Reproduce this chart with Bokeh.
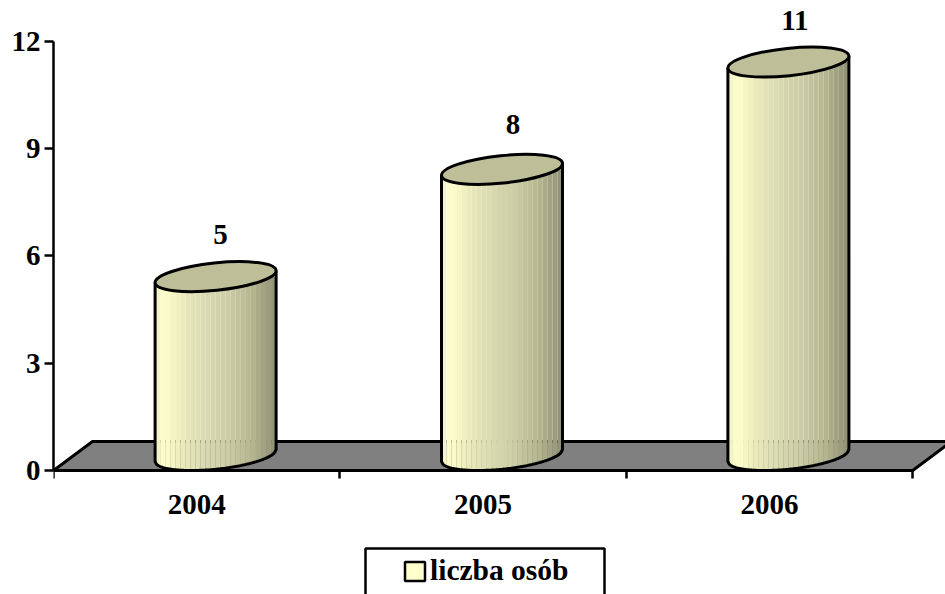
import numpy as np
from bokeh.core.properties import value as val
from bokeh.embed import file_html
from bokeh.models import (BoxAnnotation, ColumnDataSource, FixedTicker, Legend,
                          LegendItem, LinearAxis, Range1d)
from bokeh.plotting import figure
from bokeh.resources import INLINE

categories = ["2004", "2005", "2006"]
values = [5, 8, 11]
y_ticks = [0, 3, 6, 9, 12]
series_name = "liczba osób"

FONT = "Liberation Serif"
FS = "29px"
UX = 286.4   # px per category
UY = 35.77   # px per value unit
W, H = 945, 594
LEFT, ZERO_PX = 53, 470
DEPTH_X, DEPTH_Y = 39 / UX, 29 / UY      # floor depth
BAR_DX = 0.066                           # bar offset inside its category
BASE = 15 / UY                           # base ellipse centre above the axis
SX, SY, TILT = 60.5, 15.0, 6.0           # ellipse half extents and tilt in px

p = figure(width=W, height=H, output_backend="svg", toolbar_location=None,
           x_range=Range1d(0, (W - LEFT) / UX),
           y_range=Range1d(-(H - ZERO_PX) / UY, ZERO_PX / UY),
           min_border_left=LEFT, min_border_bottom=0,
           min_border_top=0, min_border_right=0,
           x_axis_type=None, y_axis_type=None,
           outline_line_color=None, background_fill_color="white")
p.grid.visible = False

# floor
p.patch([0, DEPTH_X, 3 + DEPTH_X, 3], [0, DEPTH_Y, DEPTH_Y, 0],
        fill_color="#808080", line_color="black", line_width=3)

# colours across a cylinder
STOP_F = [0.0, 0.08, 0.20, 0.35, 0.60, 0.80, 1.0]
STOP_C = np.array([[240, 240, 196], [255, 255, 204], [237, 237, 190], [223, 223, 181],
                   [204, 204, 166], [182, 182, 145], [143, 143, 116]])
N = 24
edges = np.linspace(-1, 1, N + 1)
xs_all, ys_all, cols = [], [], []
outline_x, outline_y = [], []
centres = [i + 0.5 + BAR_DX for i in range(len(values))]


def lower_arc(dpx):
    return (TILT / SX) * dpx - np.sqrt(SY**2 - TILT**2) * np.sqrt(np.maximum(0, 1 - (dpx / SX)**2))


for c, v in zip(centres, values):
    top = v + BASE
    for i in range(N):
        d = np.linspace(edges[i], edges[i + 1], 5) * SX
        arc = BASE + lower_arc(d) / UY
        xs_all.append(np.r_[c + d / UX, c + d[::-1] / UX])
        ys_all.append(np.r_[arc, np.full(5, top)])
        f = (i + 0.5) / N
        rgb = [np.interp(f, STOP_F, STOP_C[:, k]) for k in range(3)]
        cols.append("#%02x%02x%02x" % tuple(int(round(q)) for q in rgb))
    d = np.linspace(-1, 1, 81) * SX
    outline_x.append(np.r_[c - SX / UX, c + d / UX, c + SX / UX])
    outline_y.append(np.r_[top - TILT / UY, BASE + lower_arc(d) / UY, top + TILT / UY])

p.patches(xs_all, ys_all, fill_color=cols, line_color=None)
p.multi_line(outline_x, outline_y, line_color="black", line_width=3)

cap = ColumnDataSource(dict(x=centres, y=[v + BASE for v in values],
                            label=[str(v) for v in values],
                            dx=[5, 11, 6.5], dy=[-42, -45, -42]))
p.ellipse("x", "y", source=cap, width=121.6, height=27.4, angle=0.104,
          width_units="screen", height_units="screen",
          fill_color="#BEBE99", line_color="black", line_width=3)
p.text("x", "y", text="label", source=cap, x_offset="dx", y_offset="dy",
       text_align="center", text_baseline="middle",
       text_font=val(FONT), text_font_style="bold", text_font_size=FS, text_color="black")

# axes
ya = LinearAxis(ticker=FixedTicker(ticks=y_ticks), bounds=(0, 12),
                axis_line_width=2.5, major_tick_line_width=2.5,
                major_tick_out=9, major_tick_in=0, minor_tick_out=0, minor_tick_in=0,
                major_label_standoff=4, major_label_text_font=FONT,
                major_label_text_font_style="bold", major_label_text_font_size=FS,
                major_label_text_color="black")
p.add_layout(ya, "left")
label_pos = [i + 0.5 for i in range(len(categories))]
xa = LinearAxis(ticker=FixedTicker(ticks=label_pos, minor_ticks=list(range(len(categories) + 1))),
                bounds=(0, 3), fixed_location=0,
                major_label_overrides=dict(zip(label_pos, categories)),
                axis_line_width=3, major_tick_out=0, major_tick_in=0,
                minor_tick_out=8, minor_tick_in=0, minor_tick_line_width=2.5,
                major_label_standoff=16, major_label_text_font=FONT,
                major_label_text_font_style="bold", major_label_text_font_size=FS,
                major_label_text_color="black")
p.add_layout(xa, "below")

# legend: its swatch renderer has one row outside the visible range
swatch = p.quad(left=[-3], right=[-2], top=[-2], bottom=[-3], fill_color="#FFFFCC",
                line_color="black", line_width=2.5)
legend = Legend(items=[LegendItem(label=series_name, renderers=[swatch])],
                location=(349, 7), orientation="vertical",
                padding=0, margin=0, spacing=0, border_line_color=None,
                background_fill_alpha=0, glyph_width=25, glyph_height=24,
                label_standoff=3, label_text_font=FONT, label_text_font_style="bold",
                label_text_font_size="29.5px", label_text_color="black",
                label_text_baseline="middle")
p.add_layout(legend, "center")
box = BoxAnnotation(left=312, right=551, top=46, bottom=-10,
                    left_units="screen", right_units="screen",
                    top_units="screen", bottom_units="screen",
                    fill_color=None, line_color="black", line_alpha=1, line_width=2.5, editable=False)
p.add_layout(box)

open("out.html", "w").write(file_html(p, INLINE))
